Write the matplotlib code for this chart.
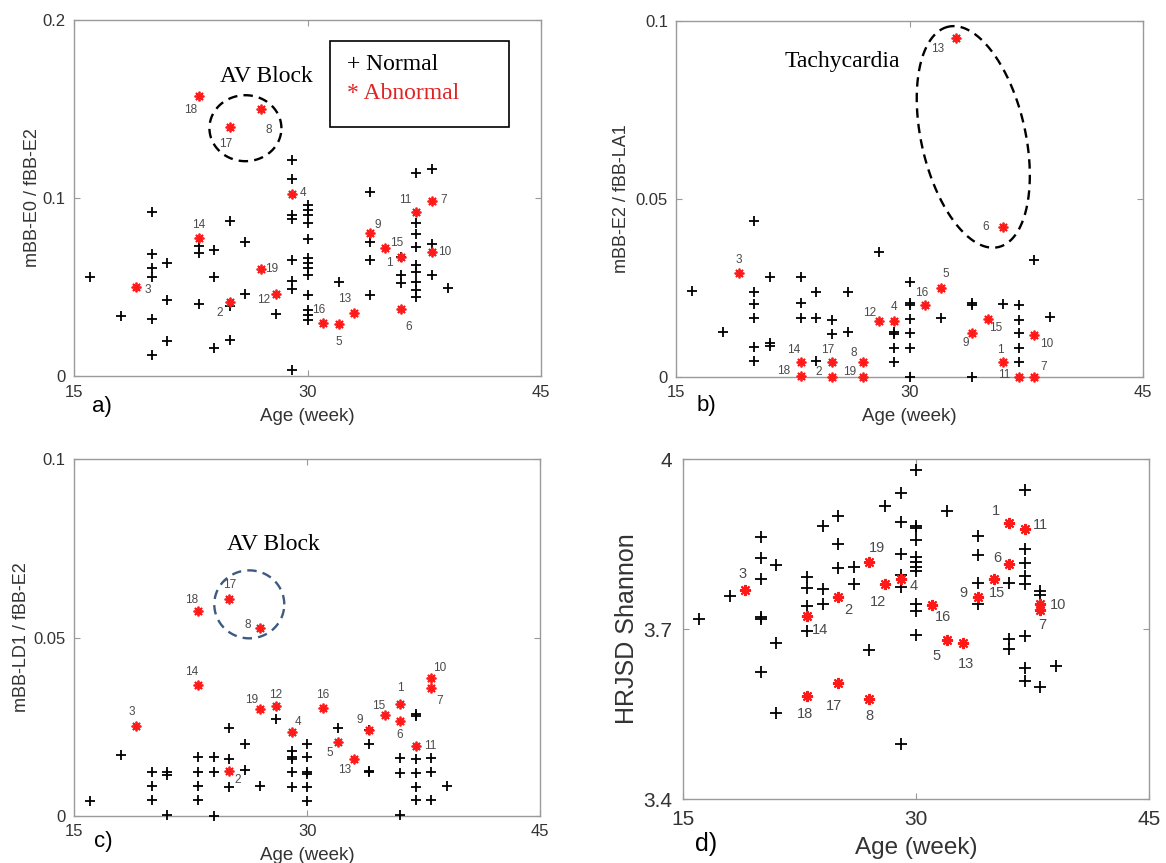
import numpy as np
import matplotlib
matplotlib.use("Agg")
from matplotlib import pyplot as plt
from matplotlib.patches import Rectangle

plt.rcParams['font.family'] = ['Liberation Sans', 'DejaVu Sans']

# patient ids of the abnormal recordings and their ages (weeks)
abn_ids = list(range(1, 20))
abn_age = [36, 25, 19, 29, 32, 36, 38, 27, 34, 38, 37, 28, 33, 23, 35, 31, 25, 23, 27]

# abnormal values per panel (ids 1..19)
abn_a = [0.0667, 0.0414, 0.0502, 0.102, 0.0292, 0.038, 0.0983, 0.1498, 0.0805, 0.0695,
         0.0923, 0.0461, 0.0356, 0.0774, 0.0722, 0.0300, 0.140, 0.157, 0.0603]
abn_b = [0.0043, 0.0, 0.0293, 0.0157, 0.0249, 0.042, 0.0, 0.0043, 0.0123, 0.0118,
         0.0, 0.0157, 0.0951, 0.0043, 0.0163, 0.0202, 0.0043, 0.0003, 0.0]
abn_c = [0.0314, 0.0127, 0.0252, 0.0236, 0.0208, 0.0267, 0.0358, 0.0526, 0.0241, 0.0387,
         0.0196, 0.0309, 0.016, 0.0367, 0.0283, 0.0302, 0.0607, 0.0575, 0.0299]
abn_d = [3.887, 3.756, 3.769, 3.788, 3.681, 3.815, 3.734, 3.576, 3.757, 3.745,
         3.877, 3.779, 3.676, 3.723, 3.789, 3.742, 3.604, 3.582, 3.819]

# normal recordings: age -> values
norm_a = {16: [0.0558], 18: [0.0337],
          20: [0.0923, 0.0685, 0.0605, 0.0558, 0.0324, 0.0122],
          21: [0.0633, 0.0427, 0.0198], 23: [0.073, 0.0689, 0.0408],
          24: [0.0708, 0.0558, 0.0161], 25: [0.0871, 0.0393, 0.0206],
          26: [0.0751, 0.0461], 28: [0.0348],
          29: [0.1213, 0.1107, 0.0905, 0.0885, 0.0655, 0.0534, 0.0489, 0.0037],
          30: [0.0961, 0.0933, 0.0904, 0.0861, 0.0768, 0.0661, 0.0633, 0.0605, 0.0567,
               0.0455, 0.0371, 0.0343, 0.0315],
          32: [0.053], 34: [0.1034, 0.0755, 0.0655, 0.0455], 36: [0.0667, 0.0566, 0.0524],
          37: [0.1138, 0.0861, 0.0801, 0.0726, 0.0624, 0.0586, 0.053, 0.0483, 0.0446],
          38: [0.1161, 0.074, 0.0567], 39: [0.0498]}
norm_b = {16: [0.0242], 18: [0.0127],
          20: [0.0438, 0.024, 0.0205, 0.0165, 0.0085, 0.0045],
          21: [0.0282, 0.0095, 0.0088], 23: [0.0282, 0.0207, 0.0165],
          24: [0.0238, 0.0165, 0.0045], 25: [0.016, 0.012], 26: [0.0238, 0.0127],
          28: [0.035], 29: [0.0127, 0.012, 0.0081, 0.0043],
          30: [0.0268, 0.0208, 0.0202, 0.0162, 0.0123, 0.0081, 0.0],
          32: [0.0165], 34: [0.0208, 0.0202, 0.0], 36: [0.0205],
          37: [0.0202, 0.016, 0.0123, 0.0081, 0.0043], 38: [0.0329], 39: [0.0169]}
norm_c = {16: [0.0042], 18: [0.0171], 20: [0.0124, 0.0085, 0.0045],
          21: [0.0124, 0.0115, 0.0003], 23: [0.0164, 0.0124, 0.0085, 0.0045],
          24: [0.0164, 0.0124, 0.0], 25: [0.0246, 0.0159, 0.0082], 26: [0.0202, 0.0129],
          27: [0.0085], 28: [0.0272], 29: [0.0182, 0.0165, 0.0160, 0.0124, 0.0082],
          30: [0.0202, 0.0164, 0.0122, 0.0118, 0.0082, 0.0042], 32: [0.0246],
          34: [0.0241, 0.0202, 0.0126, 0.0122], 36: [0.0163, 0.0121, 0.0003],
          37: [0.0285, 0.0281, 0.0159, 0.0121, 0.0082, 0.0045],
          38: [0.0163, 0.0124, 0.0045], 39: [0.0085]}
norm_d = {16: [3.718], 18: [3.759], 20: [3.863, 3.825, 3.789, 3.722, 3.718, 3.624],
          21: [3.813, 3.676, 3.552], 23: [3.792, 3.773, 3.741, 3.696],
          24: [3.881, 3.770, 3.745], 25: [3.899, 3.850, 3.808], 26: [3.810, 3.779],
          27: [3.663], 28: [3.917], 29: [3.940, 3.889, 3.832, 3.795, 3.775, 3.498],
          30: [3.981, 3.882, 3.878, 3.857, 3.828, 3.819, 3.810, 3.802, 3.745, 3.731, 3.689],
          32: [3.908], 34: [3.865, 3.831, 3.781, 3.744], 36: [3.781, 3.683, 3.664],
          37: [3.945, 3.842, 3.816, 3.794, 3.779, 3.688, 3.632, 3.608],
          38: [3.767, 3.760, 3.598], 39: [3.635]}

# label offsets (pixels) for the id numbers
off_a = {1: (-12, -6), 2: (-10, -11), 3: (11, -3), 4: (11, 1), 5: (0, -18), 6: (8, -18),
         7: (12, 1), 8: (8, -21), 9: (8, 8), 10: (13, 0), 11: (-11, 12), 12: (-13, -6),
         13: (-10, 14), 14: (0, 13), 15: (11, 5), 16: (-4, 13), 17: (-4, -17),
         18: (-8, -14), 19: (11, 0)}
off_b = {1: (-3, 12), 2: (-13, 5), 3: (0, 13), 4: (0, 14), 5: (5, 14), 6: (-17, 0),
         7: (9, 10), 8: (-9, 9), 9: (-6, -10), 10: (12, -9), 11: (-14, 2), 12: (-9, 8),
         13: (-19, -11), 14: (-7, 12), 15: (8, -9), 16: (-4, 12), 17: (-4, 12),
         18: (-17, 5), 19: (-13, 5)}
off_c = {1: (0, 16), 2: (8, -9), 3: (-4, 14), 4: (6, 10), 5: (-8, -11), 6: (-1, -14),
         7: (8, -13), 8: (-13, 3), 9: (-9, 10), 10: (8, 10), 11: (14, 0), 12: (0, 11),
         13: (-9, -11), 14: (-7, 13), 15: (-6, 9), 16: (0, 13), 17: (0, 14),
         18: (-7, 11), 19: (-9, 9)}
off_d = {1: (-13, 12), 2: (10, -13), 3: (-3, 16), 4: (13, -7), 5: (-11, -16), 6: (-12, 6),
         7: (2, -15), 8: (0, -17), 9: (-15, 4), 10: (18, -1), 11: (16, 4), 12: (-7, -18),
         13: (3, -21), 14: (13, -14), 15: (3, -14), 16: (11, -12), 17: (-4, -23),
         18: (-2, -18), 19: (8, 14)}

AX_COL = '#9a9a9a'
TXT_COL = '#333333'
NUM_COL = '#4a4a4a'

fig = plt.figure(figsize=(11.66, 8.63), dpi=100)


def dashed_ellipse(ax, cx, cy, rx, ry, ang, color):
    # cx, cy in axes fraction, rx/ry in pixels
    w, h = ax.bbox.width, ax.bbox.height
    t = np.linspace(0, 2 * np.pi, 300)
    a = np.deg2rad(ang)
    px = rx * np.cos(t) * np.cos(a) - ry * np.sin(t) * np.sin(a)
    py = rx * np.cos(t) * np.sin(a) + ry * np.sin(t) * np.cos(a)
    ax.plot(cx + px / w, cy + py / h, color=color, lw=1.7, ls=(0, (4, 2.6)),
            transform=ax.transAxes, clip_on=False)


def panel(rect, norm, abn, offs, ylim, yticks, yticklab, ylabel, tag, big=False,
          ylab_x=-0.09, xlab_y=-0.09, tag_xy=(0.06, -0.08)):
    ax = fig.add_axes(rect)
    tfs = 15 if big else 12
    lfs = 17.5 if big else 13.5
    ms_p = 8.5 if big else 6.5
    ms_s = 8 if big else 7
    mw_s = 1.5 if big else 1.3
    nfs = 10.5 if big else 8.5
    for age, vals in norm.items():
        ax.plot([age] * len(vals), vals, ls='none', marker='+', color='black',
                ms=ms_p, mew=1.3, clip_on=False, zorder=3)
    ax.plot(abn_age, abn, ls='none', marker=(8, 2, 0), color='#ff1a1a',
            ms=ms_s, mew=mw_s, clip_on=False, zorder=4)
    for i, x, y in zip(abn_ids, abn_age, abn):
        ax.annotate(str(i), (x, y), xytext=offs[i], textcoords='offset pixels',
                    ha='center', va='center', fontsize=nfs, color=NUM_COL)
    ax.set_xlim(15, 45)
    ax.set_ylim(*ylim)
    ax.set_xticks([15, 30, 45])
    ax.set_xticklabels(['15', '30', '45'])
    ax.set_yticks(yticks)
    ax.set_yticklabels(yticklab)
    ax.tick_params(direction='in', length=4, width=0.8, color=AX_COL,
                   top=True, right=True, labelsize=tfs, labelcolor=TXT_COL,
                   pad=(8 if big else 6))
    for s in ax.spines.values():
        s.set_color(AX_COL)
        s.set_linewidth(1.0)
    ax.set_xlabel('Age (week)', fontsize=lfs, color=TXT_COL)
    ax.xaxis.set_label_coords(0.5, xlab_y)
    ax.set_ylabel(ylabel, fontsize=(18 if big else 13), color=TXT_COL)
    ax.yaxis.set_label_coords(ylab_x, 0.5)
    ax.text(tag_xy[0], tag_xy[1], tag, transform=ax.transAxes, fontsize=(18 if big else 16),
            color='black', ha='center', va='center')
    return ax


ax_a = panel([0.0635, 0.564, 0.4005, 0.413], norm_a, abn_a, off_a, (0, 0.2),
             [0, 0.1, 0.2], ['0', '0.1', '0.2'], 'mBB-E0 / fBB-E2', 'a)',
             ylab_x=-0.071, xlab_y=-0.088, tag_xy=(0.059, -0.086))
ax_b = panel([0.580, 0.563, 0.4005, 0.413], norm_b, abn_b, off_b, (0, 0.1),
             [0, 0.05, 0.1], ['0', '0.05', '0.1'], 'mBB-E2 / fBB-LA1', 'b)',
             ylab_x=-0.099, xlab_y=-0.088, tag_xy=(0.064, -0.079))
ax_c = panel([0.0635, 0.0545, 0.3997, 0.4135], norm_c, abn_c, off_c, (0, 0.1),
             [0, 0.05, 0.1], ['0', '0.05', '0.1'], 'mBB-LD1 / fBB-E2', 'c)',
             ylab_x=-0.094, xlab_y=-0.088, tag_xy=(0.062, -0.072))
ax_d = panel([0.5858, 0.0741, 0.3997, 0.394], norm_d, abn_d, off_d, (3.4, 4.0),
             [3.4, 3.7, 4.0], ['3.4', '3.7', '4'], 'HRJSD Shannon', 'd)', big=True,
             ylab_x=-0.094, xlab_y=-0.112, tag_xy=(0.049, -0.132))

# annotations
dashed_ellipse(ax_a, 0.367, 0.696, 36, 33, 0, 'black')
ax_a.text(0.411, 0.841, 'AV Block', transform=ax_a.transAxes, ha='center', va='center',
          fontsize=17, family='Liberation Serif', color='black')
ax_a.add_patch(Rectangle((0.548, 0.700), 0.383, 0.241, transform=ax_a.transAxes,
                         fill=False, edgecolor='black', lw=1.2))
ax_a.text(0.585, 0.874, '+ Normal', transform=ax_a.transAxes, ha='left', va='center',
          fontsize=17, family='Liberation Serif', color='black')
ax_a.text(0.585, 0.794, '* Abnormal', transform=ax_a.transAxes, ha='left', va='center',
          fontsize=17, family='Liberation Serif', color='#e02424')

dashed_ellipse(ax_b, 0.636, 0.674, 113, 52, 102.8, 'black')
ax_b.text(0.355, 0.886, 'Tachycardia', transform=ax_b.transAxes, ha='center', va='center',
          fontsize=17, family='Liberation Serif', color='black')

dashed_ellipse(ax_c, 0.376, 0.593, 35, 34, 0, '#3d5a80')
ax_c.text(0.427, 0.762, 'AV Block', transform=ax_c.transAxes, ha='center', va='center',
          fontsize=17, family='Liberation Serif', color='black')

fig.savefig('out.png', dpi=100)
